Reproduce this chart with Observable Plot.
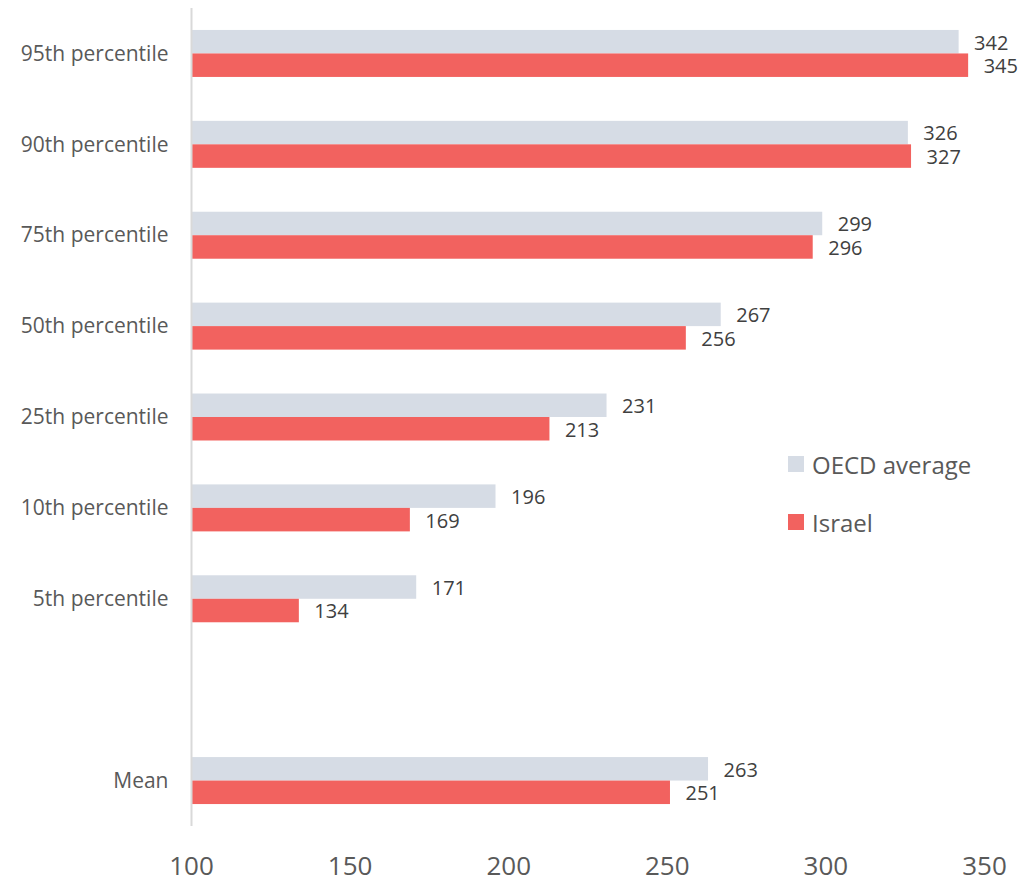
<!DOCTYPE html>
<html>
<head>
<meta charset="utf-8">
<script src="https://cdn.jsdelivr.net/npm/d3@7"></script>
<script src="https://cdn.jsdelivr.net/npm/@observablehq/plot@0.6"></script>
<style>
  html, body { margin: 0; padding: 0; background: #fff; }
  #wrap { position: relative; width: 1022px; height: 882px; font-family: "Open Sans", sans-serif; }
  .legend { position: absolute; left: 788px; top: 447px; color: #595959; font-size: 24px; }
  .legend .item { display: flex; align-items: center; height: 34px; margin-bottom: 24px; }
  .legend .sw { width: 16px; height: 16px; margin-right: 8px; }
</style>
</head>
<body>
<div id="wrap"></div>
<script>
const categories = ["95th percentile", "90th percentile", "75th percentile", "50th percentile",
  "25th percentile", "10th percentile", "5th percentile", "", "Mean"];
const oecd =   [342, 326, 299, 267, 231, 196, 171, null, 263];
const israel = [345, 327, 296, 256, 213, 169, 134, null, 251];
const seriesNames = ["OECD average", "Israel"];
const colors = ["#d6dce5", "#f2625f"];
const xTicks = [100, 150, 200, 250, 300, 350];
const xMin = 100;

const W = 1022, H = 882, mT = 8, mB = 56, mL = 191, mR = 38;
const padInner = 0.483;
const step = (H - mT - mB) / categories.length;
const half = step * (1 - padInner) / 2;

const rows = [];
categories.forEach((c, i) => {
  if (oecd[i] != null) rows.push({cat: c, series: seriesNames[0], value: oecd[i]});
  if (israel[i] != null) rows.push({cat: c, series: seriesNames[1], value: israel[i]});
});
const oRows = rows.filter(d => d.series === seriesNames[0]);
const iRows = rows.filter(d => d.series === seriesNames[1]);

const chart = Plot.plot({
  width: W, height: H,
  marginTop: mT, marginBottom: mB, marginLeft: mL, marginRight: mR,
  style: {fontFamily: "Open Sans, sans-serif", background: "white"},
  x: {domain: [xMin, 350]},
  y: {domain: categories, paddingInner: padInner, paddingOuter: padInner / 2, round: false},
  marks: [
    Plot.barX(oRows, {x1: xMin, x2: "value", y: "cat", fill: colors[0], insetBottom: half}),
    Plot.barX(iRows, {x1: xMin, x2: "value", y: "cat", fill: colors[1], insetTop: half}),
    Plot.ruleX([xMin], {stroke: "#d9d9d9", strokeWidth: 2}),
    Plot.text(oRows, {x: "value", y: "cat", text: d => String(d.value), dy: -half / 2 + 1, dx: 15,
      textAnchor: "start", fill: "#404040", fontSize: 20}),
    Plot.text(iRows, {x: "value", y: "cat", text: d => String(d.value), dy: half / 2 + 1, dx: 15,
      textAnchor: "start", fill: "#404040", fontSize: 20}),
    Plot.axisY({tickSize: 0, tickPadding: 23, fontSize: 21, color: "#595959", label: null}),
    Plot.axisX({ticks: xTicks, tickSize: 0, tickPadding: 30, fontSize: 26, color: "#595959", label: null})
  ]
});

const wrap = document.getElementById("wrap");
wrap.appendChild(chart);
const leg = document.createElement("div");
leg.className = "legend";
seriesNames.forEach((s, i) => {
  const it = document.createElement("div");
  it.className = "item";
  const sw = document.createElement("span");
  sw.className = "sw";
  sw.style.background = colors[i];
  const tx = document.createElement("span");
  tx.textContent = s;
  it.appendChild(sw); it.appendChild(tx);
  leg.appendChild(it);
});
wrap.appendChild(leg);
</script>
</body>
</html>
